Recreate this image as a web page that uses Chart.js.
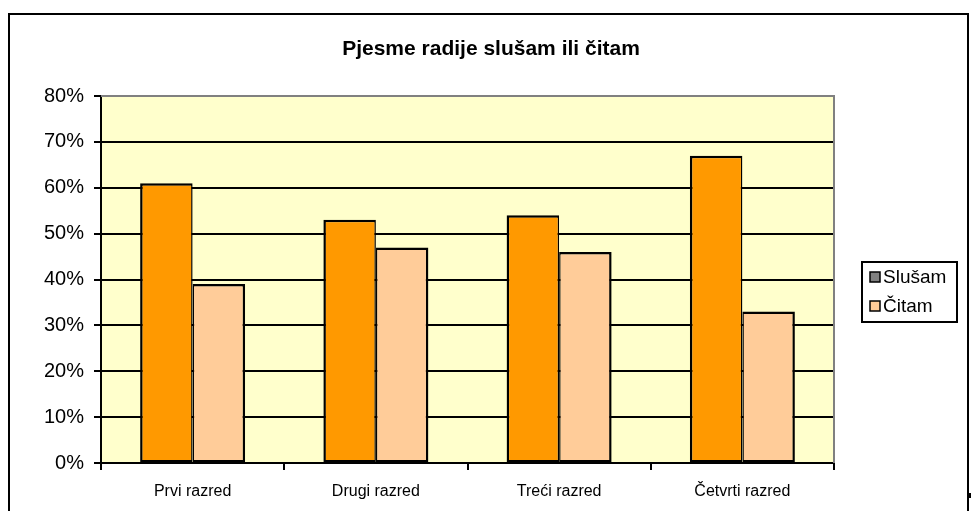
<!DOCTYPE html>
<html lang="hr">
<head>
<meta charset="UTF-8">
<title>Pjesme radije slušam ili čitam</title>
<script src="https://cdn.jsdelivr.net/npm/chart.js@4/dist/chart.umd.min.js"></script>
<style>
  html, body { margin:0; padding:0; background:#fff; }
  #wrap { position:relative; width:972px; height:511px; }
</style>
</head>
<body>
<div id="wrap"><canvas id="chart"></canvas></div>
<script>
const TITLE = 'Pjesme radije slušam ili čitam';
const categories = ['Prvi razred', 'Drugi razred', 'Treći razred', 'Četvrti razred'];
const seriesNames = ['Slušam', 'Čitam'];
const slusam = [61, 53, 54, 67];
const citam  = [39, 47, 46, 33];
const yTicks = [0, 10, 20, 30, 40, 50, 60, 70, 80];

const FONT = '"Liberation Sans", Arial, sans-serif';
const barColors    = ['#ff9900', '#ffcc99'];
const legendColors = ['#808080', '#ffcc99']; // legenda u originalu ima sivi kvadrat za "Slušam"

// okvir, pozadina plota, naslov i legenda
const decor = {
  id: 'decor',
  beforeDraw(chart) {
    const { ctx, chartArea: a } = chart;
    ctx.save();
    ctx.fillStyle = '#fff';
    ctx.fillRect(0, 0, chart.width, chart.height);
    ctx.fillStyle = '#ffffcc';
    ctx.fillRect(a.left, a.top, a.right - a.left, a.bottom - a.top);
    ctx.restore();
  },
  afterDraw(chart) {
    const { ctx, chartArea: a } = chart;
    ctx.save();

    // sivi rub plota (gore i desno)
    ctx.strokeStyle = '#808080';
    ctx.lineWidth = 2;
    ctx.beginPath();
    ctx.moveTo(a.left, a.top);
    ctx.lineTo(a.right, a.top);
    ctx.lineTo(a.right, a.bottom);
    ctx.stroke();

    // vanjski okvir
    ctx.strokeStyle = '#000';
    ctx.lineWidth = 2;
    ctx.strokeRect(9, 14, 959, 600);
    ctx.fillStyle = '#000';
    ctx.fillRect(969, 493, 2, 5);

    // naslov
    ctx.font = 'bold 21px ' + FONT;
    ctx.textAlign = 'center';
    ctx.textBaseline = 'middle';
    ctx.fillText(TITLE, 491, 49);

    // legenda
    ctx.lineWidth = 2;
    ctx.strokeRect(862, 262, 95, 60);
    ctx.font = '19px ' + FONT;
    ctx.textAlign = 'left';
    chart.data.datasets.forEach((ds, i) => {
      const cy = 277 + i * 29;
      ctx.fillStyle = legendColors[i];
      ctx.fillRect(870, cy - 5, 10, 10);
      ctx.lineWidth = 1.5;
      ctx.strokeStyle = '#000';
      ctx.strokeRect(870, cy - 5, 10, 10);
      ctx.fillStyle = '#000';
      ctx.fillText(ds.label, 883, cy + 1);
    });

    ctx.restore();
  }
};

new Chart(document.getElementById('chart'), {
  type: 'bar',
  data: {
    labels: categories,
    datasets: [
      { label: seriesNames[0], data: slusam, backgroundColor: barColors[0], borderColor: '#000',
        borderWidth: { top: 2.5, left: 2.5, right: 1.5, bottom: 2 }, borderSkipped: false },
      { label: seriesNames[1], data: citam, backgroundColor: barColors[1], borderColor: '#000',
        borderWidth: { top: 2.5, left: 1.5, right: 2.5, bottom: 2 }, borderSkipped: false }
    ]
  },
  options: {
    responsive: true,
    maintainAspectRatio: false,
    animation: false,
    layout: { padding: { top: 96, right: 138, bottom: 0, left: 0 } },
    datasets: { bar: { barPercentage: 1, categoryPercentage: 0.573 } },
    plugins: { legend: { display: false }, tooltip: { enabled: false }, title: { display: false } },
    scales: {
      x: {
        grid: { offset: true, drawOnChartArea: false, drawTicks: true, tickLength: 7, color: '#000', lineWidth: 2 },
        border: { color: '#000', width: 2 },
        ticks: { color: '#000', font: { family: FONT, size: 16 }, padding: 12, maxRotation: 0 },
        afterFit: s => { s.height = 48; }
      },
      y: {
        min: 0,
        max: 80,
        afterBuildTicks: s => { s.ticks = yTicks.map(v => ({ value: v })); },
        grid: {
          color: c => (c.tick && c.tick.value === 80) ? '#808080' : '#000',
          tickColor: '#000',
          lineWidth: 2,
          tickLength: 7
        },
        border: { color: '#000', width: 2 },
        ticks: { color: '#000', font: { family: FONT, size: 20 }, padding: 10, callback: v => v + '%' },
        afterFit: s => { s.width = 101; }
      }
    }
  },
  plugins: [decor]
});
</script>
</body>
</html>
